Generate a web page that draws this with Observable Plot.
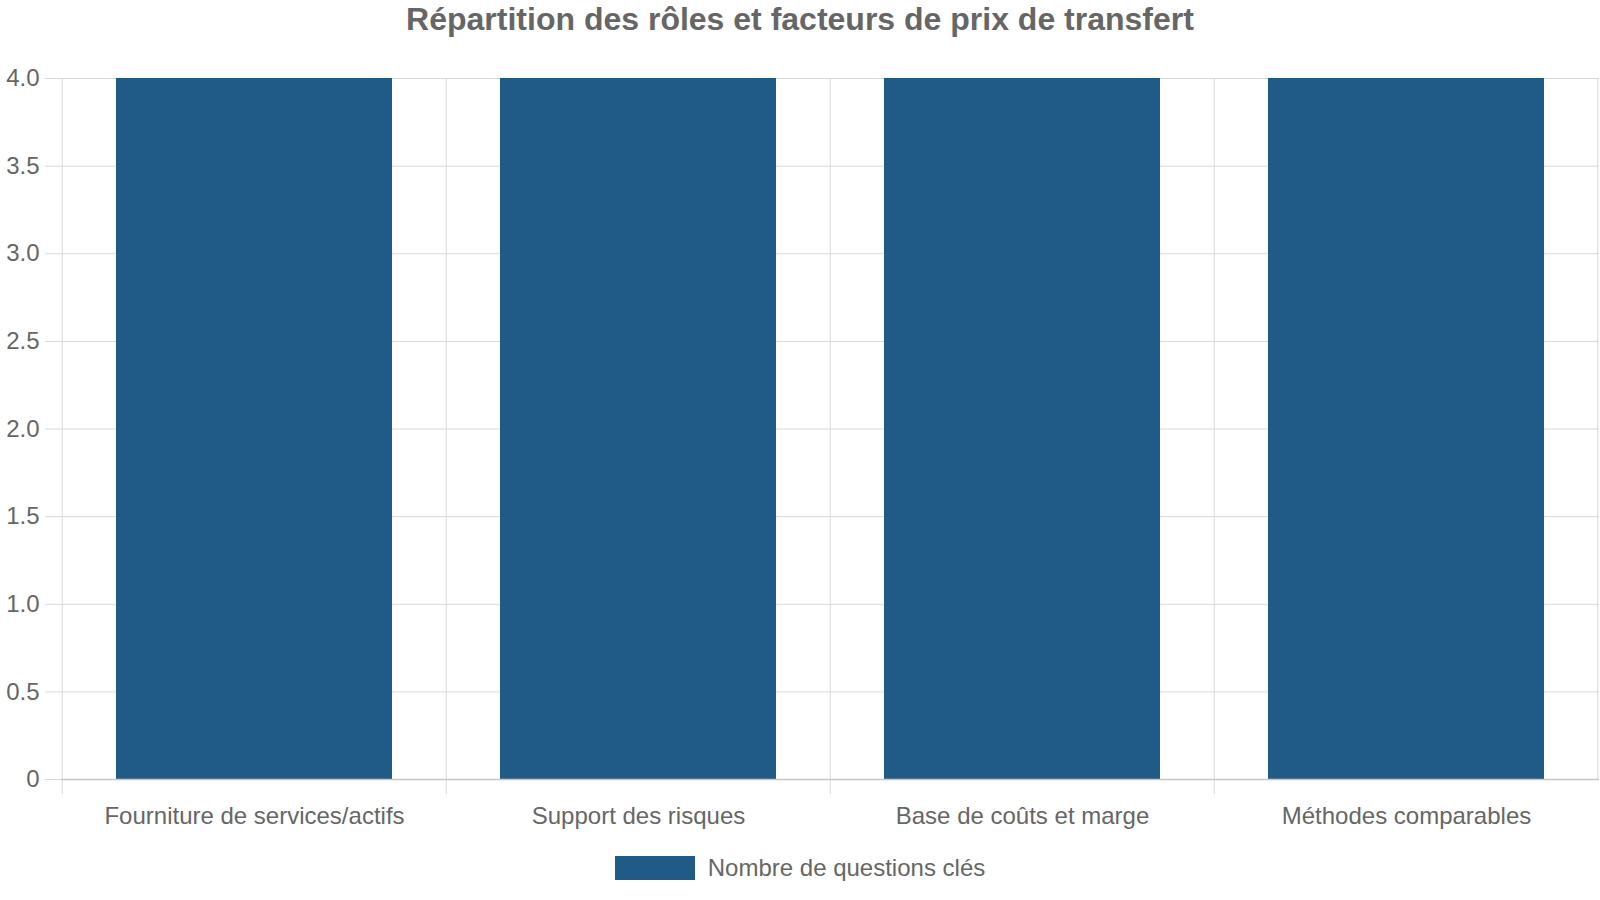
<!DOCTYPE html>
<html><head><meta charset="utf-8">
<script src="https://cdn.jsdelivr.net/npm/d3@7"></script>
<script src="https://cdn.jsdelivr.net/npm/@observablehq/plot@0.6"></script>
<style>
body{margin:0;background:#fff;font-family:"Liberation Sans",Arial,sans-serif;}
#wrap{width:1600px;height:900px;position:relative;overflow:hidden;}
#title{height:40px;line-height:38px;text-align:center;font-weight:bold;font-size:32px;color:#666;}
#chart svg{display:block;}
#legend{display:flex;justify-content:center;align-items:center;margin-top:17px;height:24px;}
#legend .sw{width:80px;height:24px;margin-right:13px;}
#legend .lb{font-size:24px;color:#666;line-height:24px;}
</style>
</head><body>
<div id="wrap">
  <div id="title">Répartition des rôles et facteurs de prix de transfert</div>
  <div id="chart"></div>
  <div id="legend"><div class="sw"></div><div class="lb"></div></div>
</div>
<script>
const categories = ["Fourniture de services/actifs", "Support des risques", "Base de coûts et marge", "Méthodes comparables"];
const values = [4, 4, 4, 4];
const seriesName = "Nombre de questions clés";
const yTicks = [0, 0.5, 1, 1.5, 2, 2.5, 3, 3.5, 4];
const barColor = "#1f5b86";

const data = categories.map((c, i) => ({category: c, value: values[i]}));
const W = 1600, ML = 61, MR = 1;
const step = (W - ML - MR) / categories.length;
const gridColor = "#d8d8d8";

const chart = Plot.plot({
  width: W, height: 799,
  marginTop: 38, marginBottom: 60, marginLeft: ML, marginRight: MR,
  style: {fontFamily: "Liberation Sans, Arial, sans-serif", fontSize: "24px", color: "#666", background: "#fff"},
  x: {domain: categories, paddingInner: 0.28, paddingOuter: 0.14, label: null},
  y: {domain: [0, 4], label: null},
  marks: [
    Plot.gridY(yTicks, {stroke: gridColor, strokeOpacity: 1}),
    Plot.ruleX(categories, {x: d => d, y1: 0, y2: 4, dx: -step / 2, stroke: gridColor}),
    Plot.ruleX([categories[categories.length - 1]], {x: d => d, y1: 0, y2: 4, dx: step / 2 - 1, stroke: gridColor}),
    Plot.axisX({tickSize: 15, tickFormat: () => "", dx: -step / 2, stroke: gridColor, strokeOpacity: 1}),
    Plot.axisX({tickSize: 0, tickPadding: 27, fontSize: 24, fill: "#666"}),
    Plot.axisY(yTicks, {tickSize: 16, tickPadding: 6, tickFormat: d => d === 0 ? "0" : d.toFixed(1), stroke: gridColor, strokeOpacity: 1, fontSize: 24, fill: "#666"}),
    Plot.barY(data, {x: "category", y: "value", fill: barColor}),
    Plot.ruleY([0], {stroke: "#c6c6c6", strokeWidth: 1.5})
  ]
});
document.getElementById("chart").appendChild(chart);
document.querySelector("#legend .sw").style.background = barColor;
document.querySelector("#legend .lb").textContent = seriesName;
</script>
</body></html>
